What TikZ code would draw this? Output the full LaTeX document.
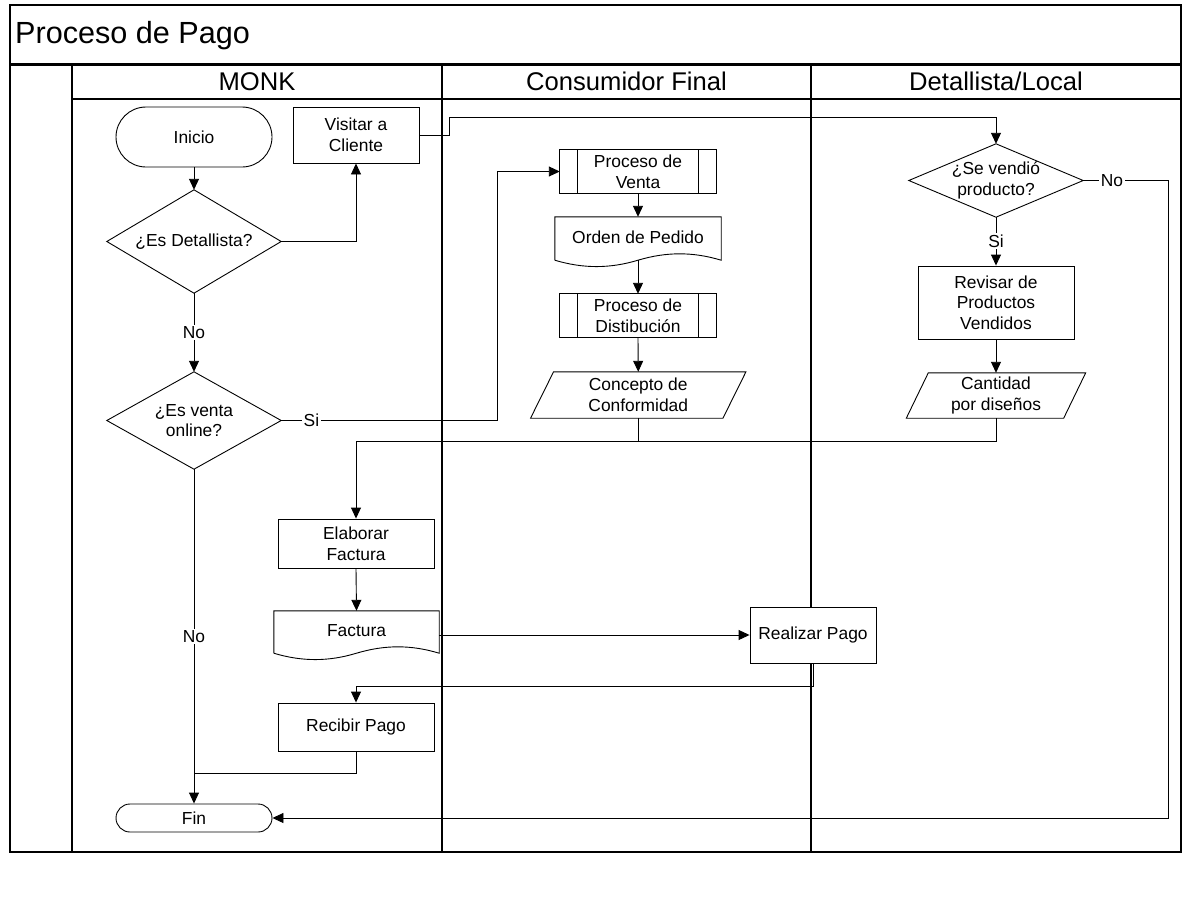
\documentclass[tikz,border=0pt]{standalone}
\usepackage{fontspec}
\setmainfont{Liberation Sans}
\usetikzlibrary{arrows.meta,calc}

% outline helpers for flowchart symbols drawn around a plain (undrawn) node
\newcommand\fcDiamond[1]{\draw[shp] (#1.north) -- (#1.east) -- (#1.south) -- (#1.west) -- cycle;}
\newcommand\fcPredef[1]{%
  \draw[shp] (#1.north west) rectangle (#1.south east);
  \draw[shp] ($(#1.north west)+(18,0)$) -- ($(#1.south west)+(18,0)$);
  \draw[shp] ($(#1.north east)+(-18,0)$) -- ($(#1.south east)+(-18,0)$);}
\newcommand\fcDocument[2]{%
  \draw[shp] (#1.south west) -- (#1.north west) -- (#1.north east) -- (#1.south east)
    .. controls ($(#1.south east)+(-#2*0.17,-8.5)$) and ($(#1.south east)+(-#2*0.33,-8.5)$) .. (#1.south)
    .. controls ($(#1.south)+(-#2*0.17,8.5)$) and ($(#1.south)+(-#2*0.33,8.5)$) .. (#1.south west);}
\newcommand\fcData[2]{%
  \draw[shp] ($(#1.north west)+(#2,0)$) -- ($(#1.north east)+(#2,0)$)
    -- ($(#1.south east)+(-#2,0)$) -- ($(#1.south west)+(-#2,0)$) -- cycle;}

\begin{document}
\begin{tikzpicture}[x=1pt,y=-1pt,
  every node/.style={font=\fontsize{17.4}{20.6}\selectfont, align=center, inner sep=0pt},
  shp/.style={line width=0.9pt},
  box/.style={draw, fill=white, line width=0.9pt},
  frame/.style={line width=1.5pt},
  lane/.style={line width=1.2pt},
  line/.style={line width=0.9pt},
  conn/.style={line width=0.9pt, -{Triangle[length=11pt,width=10pt]}},
  lbl/.style={fill=white, inner sep=1.5pt},
  hdr/.style={font=\fontsize{25.6}{30}\selectfont, anchor=base}]

\useasboundingbox (0,0) rectangle (1195,916);

% pool, title bar and lanes
\draw[frame] (10,5) rectangle (1181,64);
\draw[frame] (10,65) rectangle (1181,852);
\draw[lane] (72,65) -- (72,852);
\draw[lane] (442,65) -- (442,852);
\draw[lane] (811,65) -- (811,852);
\draw[lane] (72,99) -- (1181,99);

\node[font=\fontsize{30.6}{36}\selectfont, anchor=base west] (title) at (15,43) {Proceso de Pago};
\node[hdr] (h1) at (257,90) {MONK};
\node[hdr] (h2) at (626.5,90) {Consumidor Final};
\node[hdr] (h3) at (996,90) {Detallista/Local};

% routing points
\coordinate (vj) at (449,117);
\coordinate (sj) at (497,0);
\coordinate (mrg) at (0,441);
\coordinate (nr) at (1168,818);
\coordinate (rj) at (0,686);
\coordinate (bj) at (0,773);

% MONK lane
\node[box, minimum width=156, minimum height=60, rounded corners=30] (ini) at (194,137) {Inicio};
\node[box, minimum width=126, minimum height=56] (vis) at (356,135) {Visitar a\\Cliente};
\node[minimum width=174, minimum height=103] (det) at (194,241.5) {¿Es Detallista?};
\fcDiamond{det}
\node[minimum width=174, minimum height=97] (onl) at (194,420.5) {¿Es venta\\online?};
\fcDiamond{onl}
\node[box, minimum width=156, minimum height=49] (ef) at (356,543.5) {Elaborar\\Factura};
\node[minimum width=165, minimum height=42] (fac) at (356.5,632) {\raisebox{3pt}{Factura}};
\fcDocument{fac}{165}
\node[box, minimum width=156, minimum height=48] (rb) at (356,727) {Recibir Pago};
\node[box, minimum width=156, minimum height=28, rounded corners=14] (fin) at (194,818) {Fin};

% Consumidor Final lane
\node[minimum width=156, minimum height=43] (pv) at (638,171.5) {Proceso de\\Venta};
\fcPredef{pv}
\node[minimum width=166, minimum height=43] (op) at (638,238.5) {\raisebox{3.5pt}{Orden de Pedido}};
\fcDocument{op}{166}
\node[minimum width=156, minimum height=43] (pd) at (638,315.5) {Proceso de\\Distibución};
\fcPredef{pd}
\node[minimum width=192, minimum height=46] (cc) at (638.25,395) {Concepto de\\Conformidad};
\fcData{cc}{11.5}

% Detallista/Local lane
\node[minimum width=174, minimum height=73] (sv) at (996,180.5) {¿Se vendió\\producto?};
\fcDiamond{sv}
\node[box, minimum width=156, minimum height=73] (rev) at (996,302.5) {Revisar de\\Productos\\Vendidos};
\node[minimum width=157, minimum height=45] (cant) at (996,395.5) {Cantidad\\por diseños};
\fcData{cant}{11}

% connectors
\draw[conn] (ini.south) -- (det.north);
\draw[conn] (det.east) -| (vis.south);
\draw[conn] (vis.east) -- (vis.east -| vj) -- (vj) -- (vj -| sv.north) -- (sv.north);
\draw[conn] (det.south) -- node[lbl]{No} (onl.north);
\draw[conn] (onl.east) -- node[lbl, pos=0.14]{Si} (onl.east -| sj) |- (pv.west);
\draw[conn] (pv.south) -- (op.north);
\draw[conn] (op.south) -- (pd.north);
\draw[conn] (pd.south) -- (cc.north);
\draw[conn] (cc.south) -- (cc.south |- mrg) -| (ef.north);
\draw[line] (cant.south) -- (cant.south |- mrg) -- (cc.south |- mrg);
\draw[conn] (sv.east) -- node[lbl, pos=0.34]{No} (sv.east -| nr) -- (nr) -- (fin.east);
\draw[conn] (sv.south) -- node[lbl]{Si} (rev.north);
\draw[conn] (rev.south) -- (cant.north);
\draw[conn] (onl.south) -- node[lbl]{No} (fin.north);
\draw[conn] (ef.south) -- (fac.north);

% payment box sits over the lane border, so it is drawn filled after it
\node[box, minimum width=126, minimum height=56] (rp) at (813,635) {Realizar Pago};
\draw[conn] (rp.west -| fac.east) -- (rp.west);
\draw[conn] (rp.south) -- (rp.south |- rj) -| (rb.north);
\draw[line] (rb.south) -- (rb.south |- bj) -- (onl.south |- bj);

\end{tikzpicture}
\end{document}
